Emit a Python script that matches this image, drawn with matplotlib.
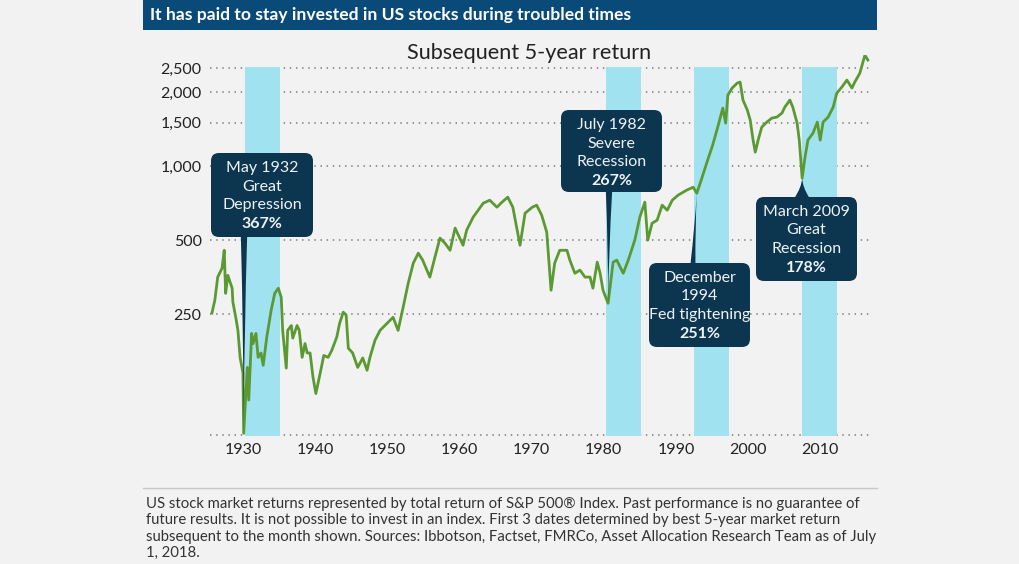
import matplotlib
matplotlib.use("Agg")
import matplotlib.pyplot as plt
from matplotlib.patches import FancyBboxPatch, Rectangle

#-----------------data----------------
years = [1925.7, 1926.1, 1926.5, 1927.1, 1927.4, 1927.6, 1927.9, 1928.5, 1928.6, 1929.0,
         1929.3, 1929.6, 1930.0, 1930.1, 1930.6, 1930.8, 1931.2, 1931.4, 1931.8, 1932.1,
         1932.5, 1932.8, 1933.3, 1933.9, 1934.4, 1934.9, 1935.3, 1935.5, 1936.0, 1936.2,
         1936.7, 1936.9, 1937.5, 1937.8, 1938.2, 1938.6, 1938.9, 1939.3, 1939.7, 1940.1,
         1940.7, 1941.2, 1941.8, 1942.3, 1943.0, 1943.4, 1943.9, 1944.3, 1944.6, 1945.2,
         1945.9, 1946.6, 1947.2, 1947.6, 1948.3, 1949.0, 1950.0, 1950.8, 1951.5, 1952.2,
         1952.9, 1953.6, 1954.3, 1954.9, 1955.9, 1956.6, 1957.3, 1958.0, 1958.7, 1959.4,
         1960.5, 1961.0, 1961.9, 1963.3, 1964.2, 1965.2, 1965.9, 1966.7, 1967.4, 1968.4,
         1969.1, 1970.1, 1970.7, 1971.4, 1972.1, 1972.7, 1973.2, 1973.9, 1974.9, 1975.3,
         1976.0, 1976.7, 1977.4, 1978.1, 1978.5, 1979.1, 1979.5, 1979.9, 1980.6, 1981.3,
         1981.8, 1982.3, 1982.7, 1983.4, 1984.3, 1985.0, 1985.7, 1986.1, 1986.7, 1987.4,
         1988.1, 1988.8, 1989.5, 1990.3, 1991.5, 1992.4, 1992.9, 1993.6, 1994.4, 1995.1,
         1995.8, 1996.5, 1996.9, 1997.2, 1997.8, 1998.5, 1998.9, 1999.3, 1999.9, 2000.3,
         2000.7, 2001.0, 2001.4, 2001.9, 2002.6, 2003.3, 2004.0, 2004.7, 2005.1, 2005.8,
         2006.2, 2006.8, 2007.1, 2007.5, 2007.9, 2008.3, 2009.0, 2009.6, 2010.0, 2010.4,
         2011.1, 2011.8, 2012.3, 2013.0, 2013.7, 2014.4, 2014.8, 2015.5, 2016.2, 2016.6]
index_value = [253, 285, 354, 385, 455, 304, 360, 319, 280, 243,
               215, 167, 144, 82, 152, 112, 209, 190, 209, 167,
               174, 155, 202, 259, 304, 319, 293, 215, 151, 215,
               225, 200, 225, 215, 167, 190, 174, 174, 139, 119,
               144, 170, 167, 178, 202, 230, 255, 248, 182, 174,
               152, 166, 148, 167, 196, 215, 230, 243, 215, 267,
               334, 403, 443, 415, 354, 426, 510, 486, 455, 560,
               477, 549, 620, 707, 727, 681, 714, 748, 681, 477,
               644, 681, 694, 632, 539, 313, 403, 455, 455, 415,
               367, 378, 354, 354, 319, 407, 367, 313, 277, 407,
               415, 388, 367, 415, 500, 620, 714, 500, 586, 603,
               694, 662, 727, 762, 799, 821, 776, 894, 1058, 1218,
               1441, 1722, 1496, 1944, 2077, 2176, 2197, 1856, 1690, 1539,
               1276, 1140, 1276, 1441, 1510, 1568, 1583, 1643, 1738, 1856,
               1738, 1496, 1276, 894, 1088, 1276, 1362, 1510, 1276, 1510,
               1583, 1738, 1981, 2096, 2238, 2077, 2197, 2390, 2828, 2700]

band_start = [1930.3, 1980.3, 1992.5, 2007.5]
band_end = [1935.1, 1985.2, 1997.4, 2012.3]
band_top = 2520

event_x = [1930.1, 1980.6, 1992.9, 2007.5]
event_y = [82, 277, 776, 894]
event_lines = [["May 1932", "Great", "Depression"],
               ["July 1982", "Severe", "Recession"],
               ["December", "1994", "Fed tightening"],
               ["March 2009", "Great", "Recession"]]
event_return = ["367%", "267%", "251%", "178%"]

y_ticks = [250, 500, 1000, 1500, 2000, 2500]
y_labels = ["250", "500", "1,000", "1,500", "2,000", "2,500"]
x_ticks = [1930, 1940, 1950, 1960, 1970, 1980, 1990, 2000, 2010]
#-----------------------------------------------------------

bg = '#f2f2f2'
navy = '#0c3550'
green = '#5b9a32'
cyan = '#a0e2f0'
font = ['Lato', 'DejaVu Sans']

fig = plt.figure(figsize=(10.2, 5.64), dpi=100, facecolor=bg)
ax = fig.add_axes([210/1020, 1-436/564, 662/1020, 381/564], facecolor=bg)
ax.set_yscale('log')
ax.set_xlim(1925.43, 2017.18)
ax.set_ylim(80, 2830)

for a, b in zip(band_start, band_end):
    ax.fill_between([a, b], 80, band_top, color=cyan, lw=0, zorder=1)

for t in y_ticks + [81]:
    ax.axhline(t, color='#8c8c8c', lw=1.3, ls=(0, (0.8, 2.6)), zorder=0.5)

ax.plot(years, index_value, color=green, lw=2.0, zorder=3, solid_joinstyle='round')

ax.set_yticks(y_ticks)
ax.set_yticklabels(y_labels)
ax.minorticks_off()
ax.set_xticks(x_ticks)
ax.tick_params(length=0, labelsize=11.5, labelcolor='#222222', pad=6)
ax.tick_params(axis='x', pad=5)
for lab in ax.get_xticklabels() + ax.get_yticklabels():
    lab.set_family(font)
for s in ax.spines.values():
    s.set_visible(False)

#-----------annotation boxes (pixel positions from the picture)-----------
boxes_px = [(211, 153, 102, 84), (561, 110, 101, 82), (649, 263, 101, 84), (756, 197, 101, 84)]
ptr_start_px = [(244, 237), (609, 192), (693, 263), (802, 197)]
ptr_width = [0.45, 0.45, 0.35, 1.0]
for i, (bx, by, bw, bh) in enumerate(boxes_px):
    x0 = (bx - 210) / 662.0
    y0 = (436 - by - bh) / 381.0
    w = bw / 662.0
    h = bh / 381.0
    box = FancyBboxPatch((x0, y0), w, h, boxstyle='round,pad=0,rounding_size=0.012',
                         transform=ax.transAxes, fc=navy, ec='none', zorder=6, clip_on=False,
                         mutation_aspect=662/381.)
    ax.add_patch(box)
    sx, sy = ptr_start_px[i]
    ax.annotate('', xy=(event_x[i], event_y[i]), xycoords='data',
                xytext=((sx - 210) / 662.0, (436 - sy) / 381.0), textcoords='axes fraction',
                arrowprops=dict(arrowstyle='wedge,tail_width=%s,shrink_factor=0.3' % ptr_width[i],
                                fc=navy, ec='none', shrinkA=0, shrinkB=0),
                zorder=5, annotation_clip=False)
    cx = x0 + w / 2
    for j, line in enumerate(event_lines[i] + [event_return[i]]):
        ly = (436 - (by + 15 + 18.5 * j)) / 381.0
        ax.text(cx, ly, line, transform=ax.transAxes, ha='center', va='center',
                color='#eef3f6', fontsize=11.5, family=font,
                fontweight='bold' if j == 3 else 'normal', zorder=7)

#-----------title banner, subtitle and footnote-----------
fig.patches.append(Rectangle((143/1020, 1-30/564), 734/1020, 30/564, transform=fig.transFigure,
                             fc='#0a4a78', ec='none'))
fig.text(150/1020, 1-15/564, "It has paid to stay invested in US stocks during troubled times",
         color='white', fontsize=12.6, fontweight='bold', va='center', ha='left',
         family=['Liberation Sans Narrow', 'Lato', 'DejaVu Sans'])
fig.text(529/1020, 1-53/564, "Subsequent 5-year return", color='#222222', fontsize=15.6,
         ha='center', va='center', family=font)

fig.add_artist(plt.Line2D([143/1020, 877/1020], [1-488/564, 1-488/564], color='#c8c8c8', lw=1))
footnote = ("US stock market returns represented by total return of S&P 500\u00ae Index. Past performance is no guarantee of\n"
            "future results. It is not possible to invest in an index. First 3 dates determined by best 5-year market return\n"
            "subsequent to the month shown. Sources: Ibbotson, Factset, FMRCo, Asset Allocation Research Team as of July\n"
            "1, 2018.")
fig.text(146/1020, 1-497/564, footnote, color='#333333', fontsize=10.7, ha='left', va='top',
         family=font, linespacing=1.22)

fig.savefig('out.png', dpi=100, facecolor=bg)
